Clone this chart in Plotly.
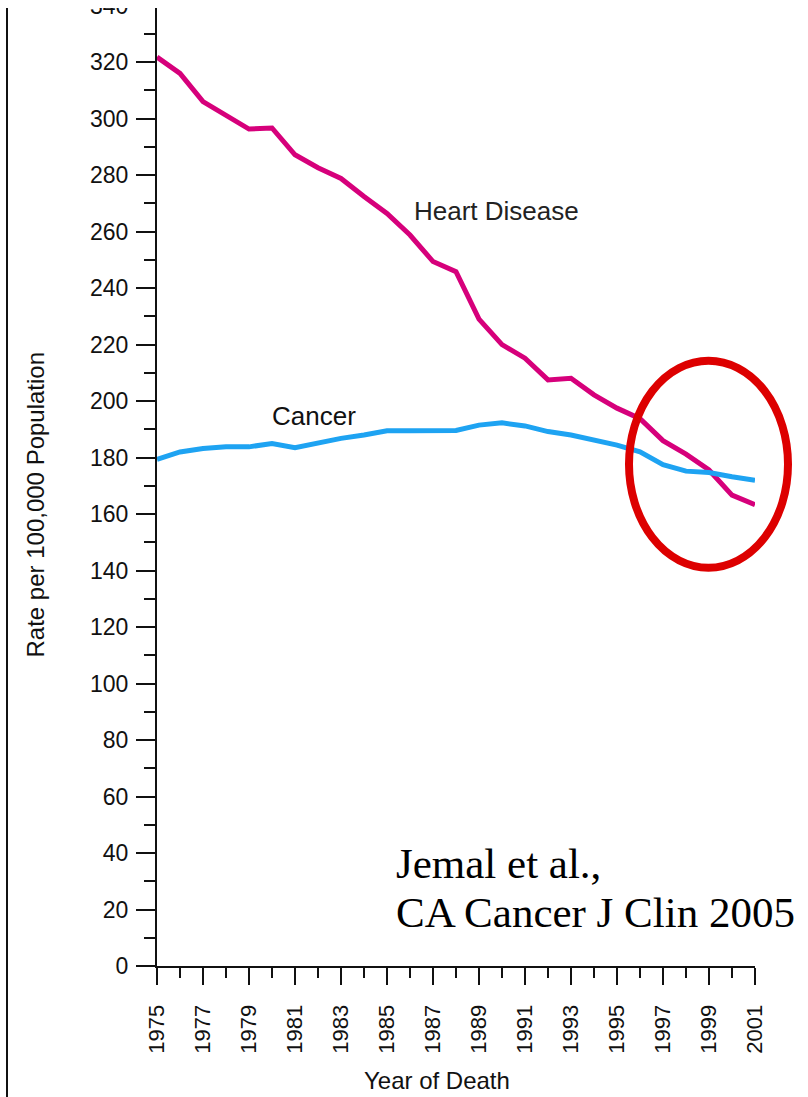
import plotly.graph_objects as go

# ---- data ----
years = list(range(1975, 2002))
heart_disease = [321.8, 316.0, 306.0, 300.9, 296.3, 296.7, 287.2, 282.6, 278.8, 272.4,
                 266.4, 258.8, 249.4, 245.8, 229.0, 220.0, 215.2, 207.5, 208.1, 202.2,
                 197.5, 193.8, 186.0, 181.2, 175.6, 166.7, 163.3]
cancer = [179.4, 182.0, 183.2, 183.8, 183.8, 185.0, 183.5, 185.3, 186.8, 188.0,
          189.5, 189.5, 189.7, 189.6, 191.5, 192.3, 191.2, 189.2, 188.0, 186.4,
          184.4, 182.0, 177.5, 175.2, 174.7, 173.2, 172.0]
major_years = list(range(1975, 2002, 2))
major_labels = [str(y) for y in major_years]

# layout geometry (pixels)
W, H = 808, 1097
L, R, T, B = 157, 53, 0, 131
pw, ph = W - L - R, H - T - B
YMAX = 342
XMIN, XMAX = 1975, 2001

def px_x(px):
    return (px - L) / pw

def px_y(py):
    return (H - B - py) / ph

fig = go.Figure()
fig.add_trace(go.Scatter(x=years, y=heart_disease, mode="lines",
                         line=dict(color="#d6007b", width=5), name="Heart Disease",
                         showlegend=False))
fig.add_trace(go.Scatter(x=years, y=cancer, mode="lines",
                         line=dict(color="#1ea3f2", width=5), name="Cancer",
                         showlegend=False))

axis_font = dict(family="Liberation Sans, Arial, sans-serif", size=23, color="#111")

fig.update_layout(
    width=W, height=H, autosize=False,
    margin=dict(l=L, r=R, t=T, b=B, pad=0),
    paper_bgcolor="white", plot_bgcolor="white",
    xaxis=dict(range=[XMIN, XMAX], tickmode="array", tickvals=major_years,
               ticktext=major_labels, tickangle=-90, ticks="outside", ticklen=17,
               tickwidth=2, tickcolor="#111", showline=True, linewidth=2,
               linecolor="#111", showgrid=False, zeroline=False, automargin=False,
               tickfont=dict(family="Liberation Sans, Arial, sans-serif", size=22, color="#111"),
               ticklabelstandoff=11,
               minor=dict(tick0=1975, dtick=1, ticks="outside", ticklen=10,
                          tickwidth=2, tickcolor="#111", showgrid=False)),
    yaxis=dict(range=[0, YMAX], tick0=0, dtick=20, ticks="outside", ticklen=19,
               tickwidth=2, tickcolor="#111", showline=True, linewidth=2,
               linecolor="#111", showgrid=False, zeroline=False, automargin=False,
               tickfont=axis_font, ticklabelstandoff=3, ticklabeloverflow="allow",
               minor=dict(tick0=0, dtick=10, ticks="outside", ticklen=11,
                          tickwidth=2, tickcolor="#111", showgrid=False)),
)

# series labels
fig.add_annotation(x=1986.1, y=267.3, xref="x", yref="y", text="Heart Disease",
                   showarrow=False, xanchor="left", yanchor="middle",
                   font=dict(family="Liberation Sans, Arial, sans-serif", size=26, color="#222"))
fig.add_annotation(x=1979.9, y=194.7, xref="x", yref="y", text="Cancer",
                   showarrow=False, xanchor="left", yanchor="middle",
                   font=dict(family="Liberation Sans, Arial, sans-serif", size=26, color="#111"))

# axis titles
fig.add_annotation(x=px_x(35), y=px_y(504.5), xref="paper", yref="paper",
                   text="Rate per 100,000 Population", textangle=-90, showarrow=False,
                   xanchor="center", yanchor="middle",
                   font=dict(family="Liberation Sans, Arial, sans-serif", size=24, color="#111"))
fig.add_annotation(x=px_x(437), y=px_y(1080), xref="paper", yref="paper",
                   text="Year of Death", showarrow=False, xanchor="center", yanchor="middle",
                   font=dict(family="Liberation Sans, Arial, sans-serif", size=24, color="#111"))

# citation
cite_font = dict(family="Liberation Serif, Times New Roman, serif", size=43, color="black")
fig.add_annotation(x=px_x(394), y=px_y(863), xref="paper", yref="paper",
                   text="Jemal et al.,", showarrow=False, xanchor="left", yanchor="middle",
                   font=cite_font)
fig.add_annotation(x=px_x(394), y=px_y(912), xref="paper", yref="paper",
                   text="CA Cancer J Clin 2005", showarrow=False, xanchor="left",
                   yanchor="middle", font=cite_font)

# red ellipse highlighting the crossover
fig.add_shape(type="circle", xref="paper", yref="paper",
              x0=px_x(629), x1=px_x(788), y0=px_y(567.7), y1=px_y(360.7),
              line=dict(color="#dd0000", width=8), fillcolor="rgba(0,0,0,0)",
              layer="above")

# white strip at top (cropped image) and left border line
fig.add_shape(type="rect", xref="paper", yref="paper",
              x0=px_x(-5), x1=px_x(W + 5), y0=px_y(8), y1=px_y(-5),
              fillcolor="white", line=dict(width=0), layer="above")
fig.add_shape(type="line", xref="paper", yref="paper",
              x0=px_x(7), x1=px_x(7), y0=px_y(H + 5), y1=px_y(8),
              line=dict(color="#111", width=2), layer="above")

fig.write_html("out.html", config={"displayModeBar": False},
               post_script="document.body.style.margin='0';document.body.style.overflow='hidden';")
